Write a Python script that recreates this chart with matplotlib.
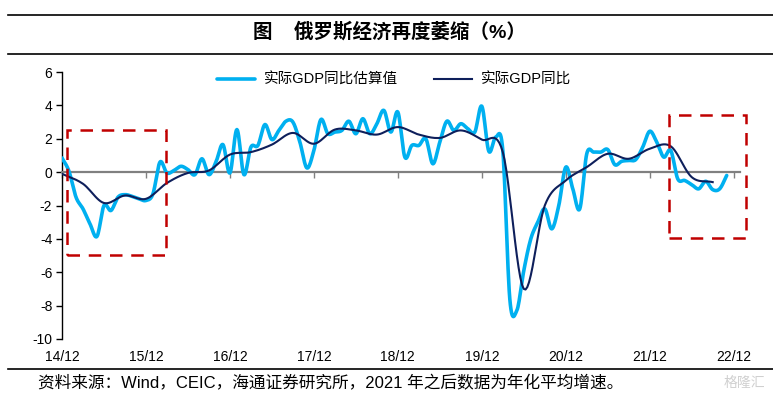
import numpy as np
import matplotlib
matplotlib.use("Agg")
import matplotlib.pyplot as plt
from matplotlib.patches import Rectangle
from matplotlib.lines import Line2D

plt.rcParams['font.family'] = ['Liberation Sans', 'Noto Sans CJK SC']
plt.rcParams['axes.unicode_minus'] = False

# 月度：实际GDP同比估算值（14/12 起）
est_vals = [0.85, 0.05, -1.5, -2.2, -3.1, -3.85, -2.0, -2.3, -1.5, -1.35,
            -1.45, -1.6, -1.7, -1.3, 0.6, -0.05, 0.1, 0.35, 0.15, -0.15,
            0.8, -0.15, 0.6, 1.65, -0.05, 2.55, -0.15, 1.5, 1.6, 2.85,
            1.95, 2.5, 3.05, 3.0, 1.8, 0.25, 1.3, 3.15, 2.3, 2.4,
            2.5, 3.05, 2.3, 3.2, 2.3, 2.9, 3.7, 2.4, 3.6, 0.9,
            1.6, 1.6, 2.0, 0.5, 1.8, 3.05, 2.5, 2.9, 2.6, 2.4,
            3.95, 1.25, 2.1, 1.3, -7.6, -8.3, -5.9, -4.0, -3.0, -2.2,
            -3.4, -2.0, 0.3, -1.0, -2.2, 1.1, 1.2, 1.2, 1.35, 0.45,
            0.65, 0.7, 0.75, 1.5, 2.45, 1.8, 0.9, 1.3, -0.4, -0.5,
            -0.75, -1.0, -0.55, -1.05, -1.0, -0.2]
# 季度：实际GDP同比
gdp_vals = [-0.1, -0.7, -1.85, -1.4, -1.6, -0.65, -0.05, 0.1, 1.05, 1.2,
            1.65, 2.35, 1.7, 2.55, 2.5, 2.25, 2.7, 2.25, 2.05, 2.5,
            1.95, 1.2, -7.0, -2.0, -0.5, 0.3, 1.1, 0.8, 1.4, 1.55,
            -0.3, -0.6]
year_labels = ['14/12', '15/12', '16/12', '17/12', '18/12',
               '19/12', '20/12', '21/12', '22/12']

est_x = np.arange(len(est_vals))
gdp_x = np.arange(len(gdp_vals)) * 3
year_ticks = np.arange(len(year_labels)) * 12

# 红色虚线框: (起始月, 结束月, 下限, 上限)
boxes = [(0.7, 14.9, -4.95, 2.5), (86.7, 97.7, -3.95, 3.45)]


def smooth(x, y, n=12):
    # Catmull-Rom 平滑，类似 Excel 平滑线
    x = np.asarray(x, float)
    y = np.asarray(y, float)
    xp = np.concatenate([[2 * x[0] - x[1]], x, [2 * x[-1] - x[-2]]])
    yp = np.concatenate([[2 * y[0] - y[1]], y, [2 * y[-1] - y[-2]]])
    t = np.linspace(0, 1, n, endpoint=False)[:, None]

    def cr(p):
        p0, p1, p2, p3 = p[:-3], p[1:-2], p[2:-1], p[3:]
        return 0.5 * (2 * p1 + (-p0 + p2) * t
                      + (2 * p0 - 5 * p1 + 4 * p2 - p3) * t ** 2
                      + (-p0 + 3 * p1 - 3 * p2 + p3) * t ** 3)

    xs = np.append(cr(xp).T.ravel(), x[-1])
    ys = np.append(cr(yp).T.ravel(), y[-1])
    return xs, ys


fig = plt.figure(figsize=(7.73, 3.97), dpi=100)
ax = fig.add_axes([62 / 773, 1 - 339 / 397, 678 / 773, 267 / 397])

sx, sy = smooth(est_x, est_vals)
ax.plot(sx, sy, color='#00B0F0', lw=2.6, label='实际GDP同比估算值',
        zorder=3, solid_capstyle='round')
gx, gy = smooth(gdp_x, gdp_vals)
ax.plot(gx, gy, color='#0E1F5B', lw=1.5, label='实际GDP同比', zorder=4)

for x0, x1, y0, y1 in boxes:
    ax.add_patch(Rectangle((x0, y0), x1 - x0, y1 - y0, fill=False,
                           edgecolor='#C00000', lw=1.8, ls=(0, (5, 3.5)),
                           clip_on=False, zorder=5))

ax.set_xlim(0, 96.9)
ax.set_ylim(-10, 6)
ax.set_yticks(range(-10, 7, 2))
ax.tick_params(axis='y', length=4, width=1, labelsize=10, pad=3)
ax.spines['left'].set_linewidth(1)
ax.spines['top'].set_visible(False)
ax.spines['right'].set_visible(False)
ax.spines['bottom'].set_position(('data', 0))
ax.spines['bottom'].set_color('#808080')
ax.spines['bottom'].set_linewidth(1.6)
ax.set_xticks(year_ticks)
ax.tick_params(axis='x', length=4, width=1, color='#808080',
               labelbottom=False)

sec = ax.secondary_xaxis('bottom')
sec.set_xticks(year_ticks, labels=year_labels)
sec.tick_params(length=0, labelsize=10, pad=8)
sec.spines['bottom'].set_visible(False)

ax.legend(loc='upper center', bbox_to_anchor=(0.49, 1.045), ncol=2,
          frameon=False, fontsize=10.5, handlelength=2.6,
          columnspacing=2.5, handletextpad=0.6)

# 标题与上下横线
fig.text(389 / 773, 1 - 32 / 397, '图    俄罗斯经济再度萎缩（%）',
         ha='center', va='center', fontsize=14, fontweight='bold')
for yy in (15, 54, 369):
    fig.add_artist(Line2D([8 / 773, 1], [1 - yy / 397] * 2,
                          transform=fig.transFigure, color='black', lw=1.2))

fig.text(38 / 773, 1 - 383 / 397,
         '资料来源：Wind，CEIC，海通证券研究所，2021 年之后数据为年化平均增速。',
         ha='left', va='center', fontsize=12)
fig.text(765 / 773, 1 - 383 / 397, '格隆汇', ha='right', va='center',
         fontsize=10, color='#D0D0D0')

fig.savefig('out.png', dpi=100)
